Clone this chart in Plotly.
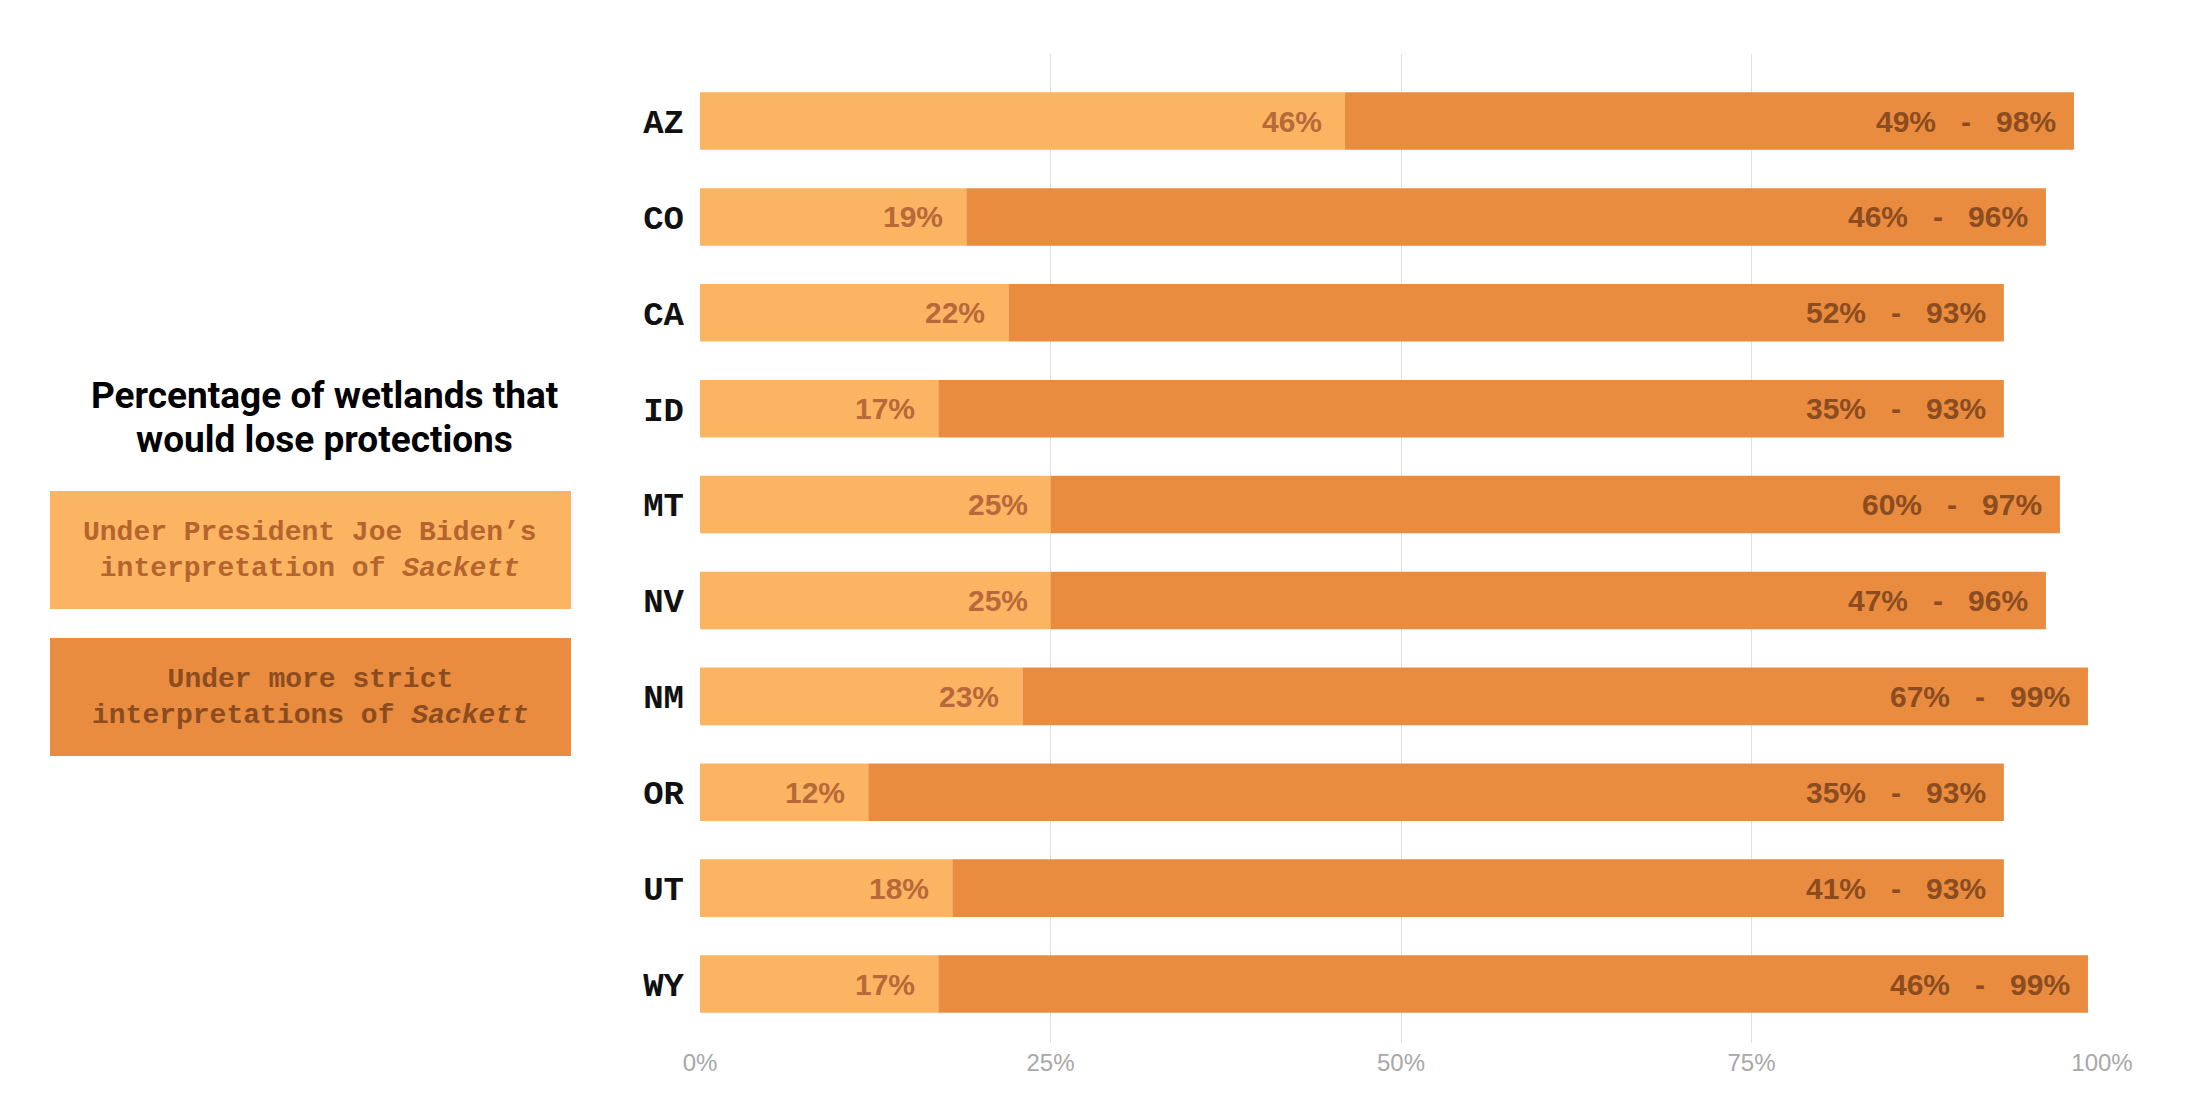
import plotly.graph_objects as go

states = ["AZ", "CO", "CA", "ID", "MT", "NV", "NM", "OR", "UT", "WY"]
biden = [46, 19, 22, 17, 25, 25, 23, 12, 18, 17]
strict_low = [49, 46, 52, 35, 60, 47, 67, 35, 41, 46]
strict_high = [98, 96, 93, 93, 97, 96, 99, 93, 93, 99]
x_ticks = [0, 25, 50, 75, 100]
x_tick_labels = ["0%", "25%", "50%", "75%", "100%"]
title_lines = ["Percentage of wetlands that", "would lose protections"]

LIGHT = "#FBB562"
DARK = "#E98C3F"
LIGHT_TXT = "#B8693A"
DARK_TXT = "#8C4C20"

W, H = 2200, 1106
ML, MR, MT, MB = 692, 106, 46, 71
PW, PH = W - ML - MR, H - MT - MB


def px(x):
    return (x - ML) / PW


def py(y):
    return (H - MB - y) / PH


fig = go.Figure()
fig.add_trace(go.Bar(
    y=states, x=biden, orientation="h", marker=dict(color=LIGHT, line=dict(width=0)),
    width=0.6, hoverinfo="skip", showlegend=False,
))
fig.add_trace(go.Bar(
    y=states, x=[h - b for h, b in zip(strict_high, biden)], base=biden,
    orientation="h", marker=dict(color=DARK, line=dict(width=0)),
    width=0.6, hoverinfo="skip", showlegend=False,
))

annotations = []
NB = "\u00a0"
for s, b, lo, hi in zip(states, biden, strict_low, strict_high):
    annotations.append(dict(
        x=b, y=s, xref="x", yref="y", text=f"<b>{b}%</b>", showarrow=False,
        xanchor="right", yanchor="middle", xshift=-21,
        font=dict(family="Liberation Sans", size=30, color=LIGHT_TXT),
    ))
    annotations.append(dict(
        x=hi, y=s, xref="x", yref="y",
        text=f"<b>{lo}%{NB*3}-{NB*3}{hi}%</b>", showarrow=False,
        xanchor="right", yanchor="middle", xshift=-16,
        font=dict(family="Liberation Sans", size=30, color=DARK_TXT),
    ))

# Title block (two lines, tight leading)
for line, yc in zip(title_lines, [388, 431]):
    annotations.append(dict(
        x=px(316), y=py(yc), xref="paper", yref="paper",
        text=f"<b>{line}</b>",
        showarrow=False, xanchor="center", yanchor="middle", align="center",
        font=dict(family="Roboto", size=37, color="#000000"),
    ))
annotations.append(dict(
    x=px(302), y=py(542), xref="paper", yref="paper",
    text="<b>Under President Joe Biden’s<br>interpretation of <i>Sackett</i></b>",
    showarrow=False, xanchor="center", yanchor="middle", align="center",
    font=dict(family="Liberation Mono", size=28, color="#B5642F"),
))
annotations.append(dict(
    x=px(302), y=py(689), xref="paper", yref="paper",
    text="<b>Under more strict<br>interpretations of <i>Sackett</i></b>",
    showarrow=False, xanchor="center", yanchor="middle", align="center",
    font=dict(family="Liberation Mono", size=28, color="#8C4C1F"),
))

shapes = [
    dict(type="rect", xref="paper", yref="paper", x0=px(42), x1=px(563), y0=py(483), y1=py(601),
         fillcolor=LIGHT, line=dict(width=0), layer="above"),
    dict(type="rect", xref="paper", yref="paper", x0=px(42), x1=px(563), y0=py(630), y1=py(748),
         fillcolor=DARK, line=dict(width=0), layer="above"),
]

fig.update_layout(
    width=W, height=H,
    margin=dict(l=ML, r=MR, t=MT, b=MB, pad=0),
    paper_bgcolor="white", plot_bgcolor="white",
    barmode="overlay", bargap=0.4,
    annotations=annotations, shapes=shapes,
    xaxis=dict(
        range=[0, 100], tickvals=x_ticks, ticktext=x_tick_labels,
        showgrid=True, gridcolor="#E0E0E0", gridwidth=1, zeroline=False, showline=False,
        ticks="", ticklabelstandoff=3,
        tickfont=dict(family="Liberation Sans", size=24, color="#A8A8A8"),
        fixedrange=True,
    ),
    yaxis=dict(
        categoryorder="array", categoryarray=states, type="category",
        range=[9.615, -0.699], showgrid=False, zeroline=False, showline=False,
        ticks="", ticklabelstandoff=15,
        tickfont=dict(family="Liberation Mono", size=34, color="#111111", weight="bold"),
        fixedrange=True,
    ),
)

fig.write_html("out.html")
